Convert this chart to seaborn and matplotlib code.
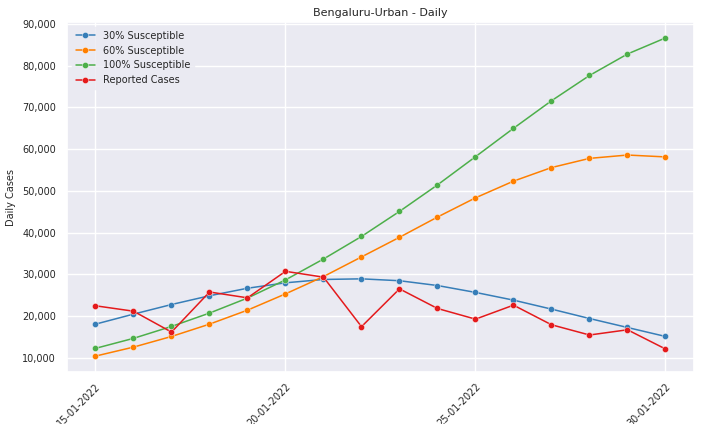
import matplotlib
matplotlib.use("Agg")
import matplotlib.dates as mdates
import matplotlib.pyplot as plt
import matplotlib.ticker as mticker
import numpy as np
import pandas as pd
import seaborn as sns

sns.set_theme(style="darkgrid")

dates = pd.date_range("2022-01-15", "2022-01-30", freq="D")

# daily cases
sus_30 = [18100, 20500, 22800, 24900, 26700, 28000, 28800, 28950, 28500,
          27350, 25700, 23850, 21700, 19450, 17300, 15150]
sus_60 = [10450, 12600, 15150, 18100, 21450, 25350, 29500, 34200, 38900,
          43750, 48350, 52350, 55600, 57800, 58600, 58150]
sus_100 = [12300, 14700, 17550, 20750, 24350, 28700, 33700, 39100, 45100,
           51450, 58200, 65000, 71600, 77650, 82800, 86650]
reported = [22500, 21200, 16200, 25800, 24400, 30750, 29350, 17500, 26550,
            21850, 19300, 22650, 17950, 15500, 16750, 12150]

series_names = ["30% Susceptible", "60% Susceptible", "100% Susceptible", "Reported Cases"]
colors = ["#377eb8", "#ff7f00", "#4daf4a", "#e41a1c"]

frames = []
for name, vals in zip(series_names, [sus_30, sus_60, sus_100, reported]):
    frames.append(pd.DataFrame({"date": dates, "cases": vals, "series": name}))
df = pd.concat(frames, ignore_index=True)

fig, ax = plt.subplots(figsize=(7.02, 4.24), dpi=100)
fig.subplots_adjust(left=67 / 702, right=694 / 702, top=1 - 22 / 424, bottom=1 - 372 / 424)

sns.lineplot(
    data=df, x="date", y="cases", hue="series", hue_order=series_names,
    palette=dict(zip(series_names, colors)), marker="o", markersize=4.5,
    markeredgewidth=0.3, linewidth=1.1, ax=ax,
)

ax.set_title("Bengaluru-Urban - Daily", fontsize=8, pad=4)
ax.set_xlabel("")
ax.set_ylabel("Daily Cases", fontsize=7)
ax.xaxis.set_major_locator(mdates.DayLocator(bymonthday=[15, 20, 25, 30]))
ax.xaxis.set_major_formatter(mdates.DateFormatter("%d-%m-%Y"))
ax.yaxis.set_major_formatter(mticker.FuncFormatter(lambda v, p: f"{int(v):,}"))
ax.tick_params(axis="both", labelsize=7, pad=2)
ax.tick_params(axis="x", pad=1)
plt.setp(ax.get_xticklabels(), rotation=45, ha="right", rotation_mode="anchor")

leg = ax.legend(loc="upper left", fontsize=7, title=None, framealpha=0.8)
leg.get_frame().set_edgecolor("#EAEAF2")

fig.savefig("out.png", dpi=100)
